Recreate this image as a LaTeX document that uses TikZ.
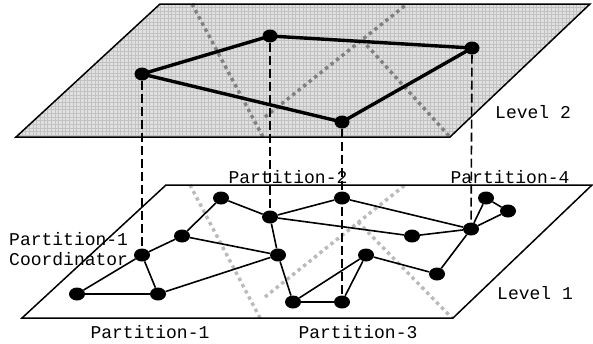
\documentclass[tikz,border=0pt]{standalone}
\usepackage{fontspec}
\setmonofont{Liberation Mono}
\usetikzlibrary{shapes.geometric}

\begin{document}
\begin{tikzpicture}[x=1pt,y=-1pt,
  lbl/.style={font=\fontsize{18}{20}\selectfont\ttfamily, inner sep=0pt},
  plane/.style={line width=1.5pt, line join=miter},
  topdot/.style={ellipse, fill=black, minimum width=15pt, minimum height=13pt, inner sep=0pt},
  botdot/.style={ellipse, fill=black, minimum width=16pt, minimum height=13pt, inner sep=0pt},
  topedge/.style={line width=3.4pt},
  botedge/.style={line width=1.6pt},
  cut/.style={line width=1.6pt, dash pattern=on 9pt off 4pt},
  divtop/.style={line width=3.4pt, color=black!50, dash pattern=on 3.4pt off 3.6pt},
  divbot/.style={line width=3.4pt, color=black!27, dash pattern=on 3.4pt off 3.6pt}
]
\useasboundingbox (0,0) rectangle (593,343);

% ---------- Level 2 plane ----------
\coordinate (t1) at (160,4);
\coordinate (t2) at (590,4);
\coordinate (t3) at (450,137);
\coordinate (t4) at (16,137);
\fill[black!12] (t1) -- (t2) -- (t3) -- (t4) -- cycle;
\begin{scope}
  \clip (t1) -- (t2) -- (t3) -- (t4) -- cycle;
  \draw[black!24, line width=0.5pt, step=3.65pt] (0,0) grid (600,140);
\end{scope}
% partition borders on level 2
\draw[divtop] (192,4) -- (263,137);
\draw[divtop] (265,117) -- (407,4);
\draw[divtop] (362,40) -- (450,137);
\draw[plane] (t1) -- (t2) -- (t3) -- (t4) -- cycle;

% ---------- Level 1 plane ----------
\coordinate (b1) at (166,185);
\coordinate (b2) at (592,185);
\coordinate (b3) at (453,318);
\coordinate (b4) at (22,318);
\draw[divbot] (190,185) -- (260,318);
\draw[divbot] (265,297) -- (405,185);
\draw[divbot] (358,222) -- (452,318);
\draw[plane] (b1) -- (b2) -- (b3) -- (b4) -- cycle;

% ---------- Level 2 graph ----------
\node[topdot] (A) at (142,74) {};
\node[topdot] (B) at (270,36) {};
\node[topdot] (C) at (472,48) {};
\node[topdot] (D) at (342,122) {};
\draw[topedge] (A.center) -- (B.center) -- (C.center) -- (D.center) -- cycle;

% ---------- Level 1 graph ----------
\node[botdot] (n1) at (221,198) {};
\node[botdot] (n2) at (270,217) {};
\node[botdot] (n3) at (182,236) {};
\node[botdot] (n4) at (142,255) {};
\node[botdot] (n5) at (278,255) {};
\node[botdot] (n6) at (77,294) {};
\node[botdot] (n7) at (158,294) {};
\node[botdot] (n8) at (293,302) {};
\node[botdot] (n9) at (342,198) {};
\node[botdot] (n10) at (412,236) {};
\node[botdot] (n11) at (471,229) {};
\node[botdot] (n12) at (486,198) {};
\node[botdot] (n13) at (508,211) {};
\node[botdot] (n14) at (366,255) {};
\node[botdot] (n15) at (437,274) {};
\node[botdot] (n16) at (342,302) {};
\draw[botedge] (n6) -- (n4);
\draw[botedge] (n6) -- (n7);
\draw[botedge] (n4) -- (n7);
\draw[botedge] (n4) -- (n3);
\draw[botedge] (n3) -- (n1);
\draw[botedge] (n3) -- (n5);
\draw[botedge] (n7) -- (n5);
\draw[botedge] (n1) -- (n2);
\draw[botedge] (n2) -- (n5);
\draw[botedge] (n5) -- (n8);
\draw[botedge] (n2) -- (n9);
\draw[botedge] (n2) -- (n10);
\draw[botedge] (n9) -- (n11);
\draw[botedge] (n10) -- (n11);
\draw[botedge] (n11) -- (n12);
\draw[botedge] (n11) -- (n13);
\draw[botedge] (n12) -- (n13);
\draw[botedge] (n11) -- (n15);
\draw[botedge] (n15) -- (n14);
\draw[botedge] (n14) -- (n8);
\draw[botedge] (n14) -- (n16);
\draw[botedge] (n8) -- (n16);

% ---------- links between levels ----------
\draw[cut] (A) -- (n4);
\draw[cut] (B) -- (n2);
\draw[cut] (D) -- (n16);
\draw[cut] (C) -- (n11);

% ---------- labels ----------
\node[lbl] (lv2) at (533,112) {Level 2};
\node[lbl] (lv1) at (535,293) {Level 1};
\node[lbl] (p2) at (288,177) {Partition-2};
\node[lbl] (p4) at (510,177) {Partition-4};
\node[lbl] (p1) at (150,332) {Partition-1};
\node[lbl] (p3) at (358,332) {Partition-3};
\node[lbl, anchor=west, align=left] (coord) at (9,249) {Partition-1\\Coordinator};
\end{tikzpicture}
\end{document}
